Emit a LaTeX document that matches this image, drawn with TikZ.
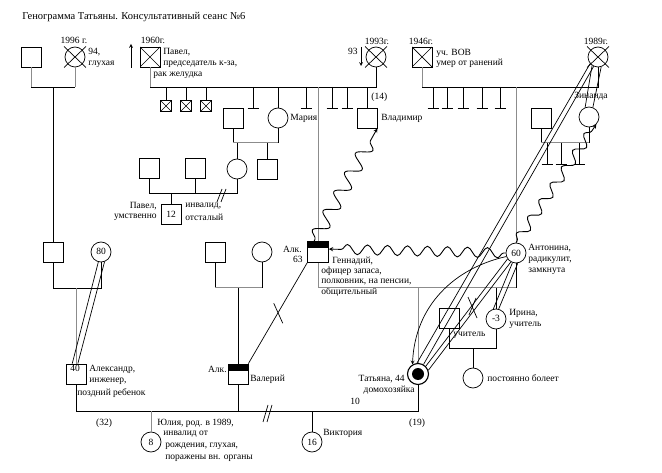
\documentclass[tikz,border=0pt]{standalone}
\usepackage{fontspec}
\setmainfont{Liberation Serif}
\usetikzlibrary{calc,decorations.pathmorphing}

\newcommand{\lab}{\fontsize{9.5}{10.8}\selectfont}

\begin{document}
\begin{tikzpicture}[x=1pt, y=-1pt, line width=0.7pt,
        male/.style={rectangle, draw, minimum size=20pt, inner sep=0pt, font=\lab},
        female/.style={circle, draw, minimum size=20pt, inner sep=0pt, font=\lab},
        dead/.style={path picture={\draw (path picture bounding box.north west) -- (path picture bounding box.south east)
            (path picture bounding box.north east) -- (path picture bounding box.south west);}},
        lost/.style={rectangle, draw, minimum size=11pt, inner sep=0pt, dead},
        alk/.style={male, path picture={\fill (path picture bounding box.north west) rectangle ([yshift=-7pt]path picture bounding box.north east);}},
        lbl/.style={font=\lab, inner sep=0pt, align=left},
        gline/.style={draw=black!45, line width=1pt},
        arrow/.style={->, >=stealth},
        wave/.style={->, >=stealth, line width=0.9pt, decorate,
            decoration={snake, amplitude=5pt, segment length=20pt, pre length=2pt, post length=5pt}}
    ]
        \useasboundingbox (0,0) rectangle (662,473);
        \coordinate (y87) at (0,87);
        \coordinate (y143) at (0,143);
        \coordinate (y193) at (0,193);
        \coordinate (y288) at (0,288);
        \coordinate (y348) at (0,348);
        \coordinate (y411) at (0,411);

        \node[lbl, anchor=west, font=\fontsize{10.5}{12}\selectfont] (title) at (22,17) {Генограмма Татьяны. Консультативный сеанс №6};

        % oldest generation
        \node[male] (ff) at (31,57) {};
        \node[female] (g96) at (75,57) {};
        \node[male, dead] (pavel) at (150,57) {};
        \node[female] (g93) at (376,57) {};
        \node[male, dead] (g46) at (422,57) {};
        \node[female] (g89) at (598,57) {};
        \foreach \n in {g96, g93, g89}
            \draw ([xshift=-11pt,yshift=10.5pt]\n.center) -- ([xshift=11pt,yshift=-10.5pt]\n.center)
                  ([xshift=11pt,yshift=10.5pt]\n.center) -- ([xshift=-11pt,yshift=-10.5pt]\n.center);

        \node[lbl] (l96) at (74,40) {1996 г.};
        \node[lbl, anchor=west] (l94) at (88,57.5) {94,\\глухая};
        \node[lbl] (l60) at (153,40) {1960г.};
        \node[lbl, anchor=west] (lpav) at (163,52) {Павел,};
        \node[lbl, anchor=west] (lpav2) at (163,64) {председатель к-за,};
        \node[lbl, anchor=west] (lpav3) at (153,75) {рак желудка};
        \node[lbl] (l93) at (377,41) {1993г.};
        \node[lbl, anchor=east] (l93b) at (358,51) {93};
        \node[lbl] (l46) at (421,41) {1946г.};
        \node[lbl, anchor=west] (lvov) at (436,53) {уч. ВОВ};
        \node[lbl, anchor=west] (lvov2) at (436,63) {умер от ранений};
        \node[lbl] (l89) at (596,41) {1989г.};
        \coordinate (up1) at (131,68);
        \coordinate (dn1) at (361,47);
        \draw[arrow] (up1) -- ++(0,-24);
        \draw[arrow] (dn1) -- ++(0,19);

        \draw[gline] (ff.south) -- (ff.south |- y87) (g96.south) -- (g96.south |- y87);
        \draw (ff.south |- y87) -- (g96.south |- y87);
        \draw[gline] (pavel.south) -- (pavel.south |- y87);
        \draw (pavel.south |- y87) -- (g93.south |- y87) -- (g93.south);
        \draw[gline] (g46.south) -- (g46.south |- y87);
        \draw (g46.south |- y87) -- (g89.south |- y87) -- (g89.south);

        % children of Pavel
        \foreach \x/\n in {166/s1, 186/s2, 206/s3} {
            \node[lost] (\n) at (\x,106) {};
            \draw (\n.north) -- (\n.north |- y87);
        }
        \foreach \x in {253,306,332,347,433,447,463,482,500}
            \draw (\x,87) -- (\x,108) (\x-5.5,108) -- (\x+5.5,108);
        \node[female] (maria) at (278,118) {};
        \node[lbl, anchor=west] (lmaria) at (290,118) {Мария};
        \draw (maria.north) -- (maria.north |- y87);
        \node[male] (vlad) at (367,118) {};
        \node[lbl, anchor=west] (l14) at (371,97) {(14)};
        \node[lbl, anchor=west] (lvlad) at (381,118) {Владимир};
        \draw (vlad.north) -- (vlad.north |- y87);

        % Maria's family
        \node[male] (mhus) at (233,118) {};
        \draw (mhus.south) -- (mhus.south |- y143) (maria.south) -- (maria.south |- y143);
        \draw[gline] (mhus.south |- y143) -- (maria.south |- y143);
        \node[female] (mdau) at (237,169) {};
        \node[male] (mson) at (267,169) {};
        \draw (mdau.north) -- (mdau.north |- y143) (mson.north) -- (mson.north |- y143);
        \node[male] (h1) at (149,168) {};
        \node[male] (h2) at (195,168) {};
        \draw (h1.south) -- (h1.south |- y193) -- (mdau.south |- y193) -- (mdau.south);
        \draw (h2.south) -- (h2.south |- y193);
        \node[male] (p12) at (171,214) {12};
        \draw (p12.north) -- (p12.north |- y193);
        \draw (217,202) -- (222,189) (221,202) -- (226,189);
        \node[lbl, anchor=east] (lp12) at (157,206) {Павел,};
        \node[lbl, anchor=east] (lp12b) at (157,217) {умственно};
        \node[lbl, anchor=west] (lp12c) at (185,206) {инвалид,};
        \node[lbl, anchor=west] (lp12d) at (185,217) {отсталый};

        % Zinaida
        \node[female] (zin) at (589,117) {};
        \node[lbl] (lzin) at (591,96) {Зинаида};
        \node[male] (zhus) at (541,118) {};
        \draw (zhus.south) -- (zhus.south |- y143) (zin.south) -- (zin.south |- y143);
        \draw[gline] (zhus.south |- y143) -- (zin.south |- y143);
        \foreach \x in {547,561,579}
            \draw (\x,143) -- (\x,164) (\x-5.5,164) -- (\x+5.5,164);
        \draw (g89.235) -- (zin.112) (g89.288) -- (zin.68);

        % parents generation
        \node[male] (fa) at (53,252) {};
        \node[female] (mo) at (101,252) {\raisebox{2pt}{80}};
        \draw (fa.north) -- (fa.north |- y87);
        \draw (fa.south) -- (fa.south |- y288) -- (mo.south |- y288) -- (mo.south);
        \node[male] (vfa) at (215,252) {};
        \node[female] (vmo) at (262,252) {};
        \draw (vfa.south) -- (vfa.south |- y288) (vmo.south) -- (vmo.south |- y288);
        \draw[gline] (vfa.south |- y288) -- (vmo.south |- y288);
        \node[alk, minimum size=21pt] (gen) at (318,252) {};
        \node[lbl, anchor=east] (lalk1) at (302,249) {Алк.};
        \node[lbl, anchor=east] (l63) at (303,259) {63};
        \node[lbl, anchor=west] (lgen) at (332,261) {Геннадий,};
        \node[lbl, anchor=west] (lgen2) at (321,281.5) {офицер запаса,\\полковник, на пенсии,\\общительный};
        \draw[gline] (gen.north) -- (gen.north |- y87);
        \node[female] (ant) at (516,253) {60};
        \node[lbl, anchor=west] (lant) at (528,259.5) {Антонина,\\радикулит,\\замкнута};
        \draw[gline] (ant.north) -- (ant.north |- y87);
        \draw[gline] (gen.south) -- (gen.south |- y288) -- (ant.south |- y288);
        \draw (ant.south) -- (ant.south |- y288);

        % Tatiana and siblings
        \node[female, minimum size=21pt, line width=1.1pt,
            path picture={\fill (path picture bounding box.center) circle (6pt);}] (tat) at (418,374) {};
        \node[lbl, anchor=east] (ltat) at (405,379) {Татьяна, 44};
        \node[lbl, anchor=east] (ltat2) at (415,390) {домохозяйка};
        \draw[gline] (tat.north) -- (tat.north |- y288);
        \node[female] (iri) at (496,319) {\raisebox{2pt}{-3}};
        \node[lbl, anchor=west] (liri) at (509,319) {Ирина,\\учитель};
        \draw (iri.north) -- (iri.north |- y288);
        \node[male] (ihus) at (449,318) {};
        \node[lbl, anchor=west] (lihus) at (453,335) {учитель};
        \draw (ihus.south) -- (ihus.south |- y348) -- (iri.south |- y348) -- (iri.south);
        \node[female] (sick) at (473,378) {};
        \node[lbl, anchor=west] (lsick) at (487,378) {постоянно болеет};
        \draw (sick.north) -- (sick.north |- y348);

        % husbands
        \node[male] (alex) at (76,374) {};
        \node[lbl] (l40) at (75,368) {40};
        \node[lbl, anchor=west] (lalex) at (89,375) {Александр,\\инженер,};
        \node[lbl, anchor=west] (lalex2) at (77,393) {поздний ребенок};
        \draw[gline] (alex.north) -- (alex.north |- y288);
        \draw (mo.255) -- (alex.110) (mo.290) -- (alex.80);
        \node[alk] (val) at (238,374) {};
        \node[lbl, anchor=east] (lalk2) at (227,369) {Алк.};
        \node[lbl, anchor=west] (lval) at (250,379) {Валерий};
        \draw (val.north) -- (val.north |- y288);

        % bottom line and children
        \draw (alex.south) -- (alex.south |- y411) -- (tat.south |- y411) -- (tat.south);
        \draw (val.south) -- (val.south |- y411);
        \draw (263,422) -- (268,405) (267,422) -- (272,405);
        \node[lbl] (l32) at (104,423) {(32)};
        \node[lbl] (l10) at (355,401) {10};
        \node[lbl] (l19) at (417,423) {(19)};
        \node[female] (yul) at (151,442) {8};
        \draw[gline] (yul.north) -- (yul.north |- y411);
        \node[lbl, anchor=west] (lyul) at (157,423) {Юлия, род. в 1989,};
        \node[lbl, anchor=west] (lyul2) at (163,434) {инвалид от};
        \node[lbl, anchor=west] (lyul3) at (165,446) {рождения, глухая,};
        \node[lbl, anchor=west] (lyul4) at (165,458) {поражены вн. органы};
        \node[female] (vik) at (312,442) {\raisebox{-2pt}{16}};
        \node[lbl, anchor=west] (lvik) at (323,433) {Виктория};
        \draw (vik.north) -- (vik.north |- y411);

        % relations
        \draw (val.north east) -- coordinate[pos=.5] (cv) (gen.south west);
        \draw ([xshift=-4pt,yshift=10pt]cv) -- ([xshift=5pt,yshift=-10pt]cv);
        \draw (g89.220) -- (tat.95) (g89.245) -- (tat.60);
        \draw (ant.215) -- (tat.45) (ant.240) -- (tat.20);
        \draw (ant.250) -- (iri.105) (ant.280) -- (iri.75);
        \draw[arrow] (ant.200) .. controls (455,268) and (415,305) .. (tat.120);
        \coordinate (xm) at (472,307);
        \draw ([xshift=-4pt,yshift=10pt]xm) -- ([xshift=5pt,yshift=-11pt]xm)
              ([xshift=4pt,yshift=9pt]xm) -- ([xshift=-3pt,yshift=-8pt]xm);
        \draw[wave] (ant.180) -- (gen.15);
        \draw[wave, decoration={amplitude=7pt, segment length=22pt}] (gen.110) -- (vlad.south east);
        \draw[wave] (ant.north) -- (zin.south east);
    \end{tikzpicture}
\end{document}
